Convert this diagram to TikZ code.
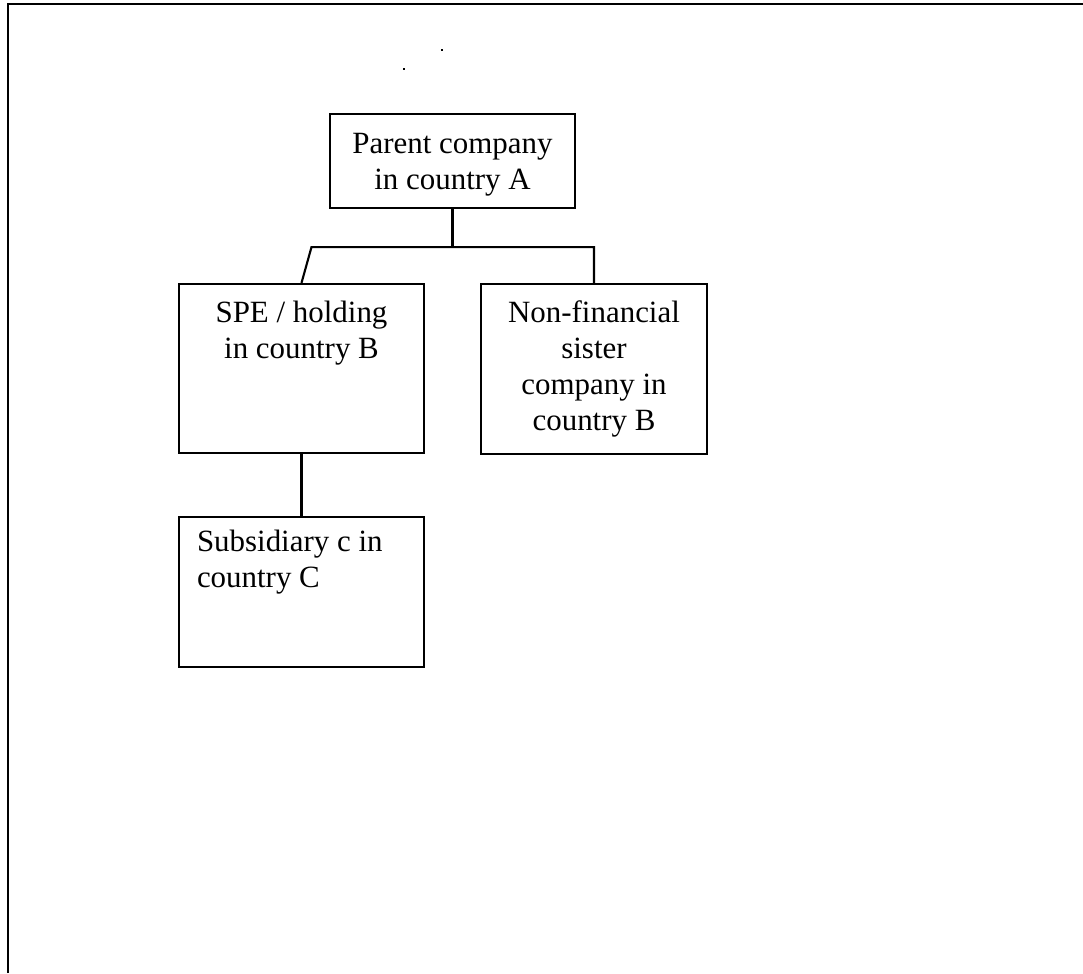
\documentclass[tikz,border=0pt]{standalone}
\usepackage{fontspec}
\setmainfont{Liberation Serif}
\usepackage{tikz}
\tikzset{box/.style={draw, inner sep=0pt, align=center,
    font=\fontsize{17.6}{20.6}\selectfont},
  boxtext/.style={inner sep=0pt, font=\fontsize{17.6}{20.6}\selectfont}
}

\begin{document}
\begin{tikzpicture}[line width=1.2pt]
                \useasboundingbox (0,0) rectangle (21.66,-19.46);
                \draw[line width=1.5pt] (0.16,-19.46) -- (0.16,-0.08) -- (21.66,-0.08);
                
                % Stray dots
                \fill (8.81,-0.99) rectangle ++(0.04,-0.04);
                \fill (8.05,-1.37) rectangle ++(0.04,-0.04);
                
                % Boxes
                \node[box, minimum width=4.9cm, minimum height=1.88cm,
                    label={[boxtext, align=center, anchor=north, yshift=-0.38cm]north:Parent company\\in country A}] (parent) at (9.05,-3.22) {};
                
                \node[box, minimum width=4.9cm, minimum height=3.38cm,
                    label={[boxtext, align=center, anchor=north, yshift=-0.34cm]north:SPE / holding\\in country B}] (spe) at (6.03,-7.37) {};
                
                \node[box, minimum width=4.52cm, minimum height=3.4cm] (nonfin) at (11.88,-7.38) {Non-financial\\sister\\company in\\country B};
                
                \node[box, minimum width=4.9cm, minimum height=3.0cm,
                    label={[boxtext, align=left, anchor=north west, xshift=0.36cm, yshift=-0.26cm]north west:Subsidiary c in\\country C}] (sub) at (6.03,-11.84) {};
                
                % Links
                \coordinate (fork) at ([yshift=-0.76cm]parent.south);
                \draw (parent.south) -- (fork);
                \draw (spe.north) -- ([xshift=0.2cm]spe.north |- fork) -- (nonfin.north |- fork) -- (nonfin.north);
                \draw (spe.south) -- (sub.north);
            \end{tikzpicture}
\end{document}
